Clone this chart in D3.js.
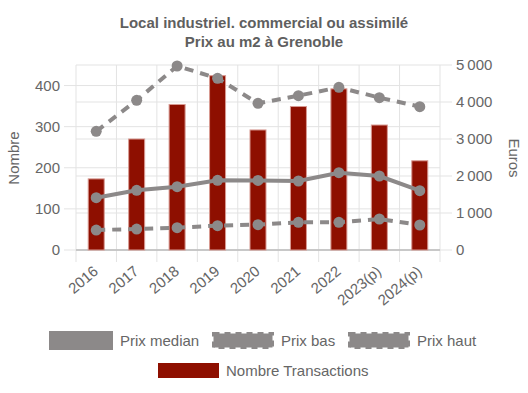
<!DOCTYPE html>
<html>
<head>
<meta charset="utf-8">
<script src="https://cdn.jsdelivr.net/npm/d3@7"></script>
<style>
  body { margin: 0; background: #fff; }
  text { font-family: "Liberation Sans", Arial, sans-serif; }
</style>
</head>
<body>
<svg id="chart" width="528" height="393"></svg>
<script>
// data
var years = ['2016', '2017', '2018', '2019', '2020', '2021', '2022', '2023(p)', '2024(p)'];
var nombre = [173, 270, 354, 424, 292, 349, 392, 304, 217];
var prixMedian = [1414, 1613, 1712, 1883, 1880, 1865, 2090, 2000, 1603];
var prixBas = [540, 567, 604, 658, 685, 748, 748, 838, 676];
var prixHaut = [3207, 4045, 4973, 4640, 3964, 4171, 4397, 4117, 3874];
var leftTicks = [0, 100, 200, 300, 400];
var rightTicks = [0, 1000, 2000, 3000, 4000, 5000];

var grey = '#8c8989';
var barColor = '#8e0f00';
var textColor = '#666';
var fs = 15;

var margin = { top: 65, right: 88, bottom: 143, left: 76 };
var width = 528 - margin.left - margin.right;
var height = 393 - margin.top - margin.bottom;

var svg = d3.select('#chart');
var g = svg.append('g').attr('transform', 'translate(' + margin.left + ',' + margin.top + ')');

var x = d3.scaleBand().domain(years).range([0, width]);
var yL = d3.scaleLinear().domain([0, 450]).range([height, 0]);
var yR = d3.scaleLinear().domain([0, 5000]).range([height, 0]);

// title
svg.append('text').attr('x', 264).attr('y', 28).attr('text-anchor', 'middle')
    .attr('font-size', fs).attr('font-weight', 'bold').attr('fill', '#5f5f5f')
    .text('Local industriel. commercial ou assimilé');
svg.append('text').attr('x', 264).attr('y', 47).attr('text-anchor', 'middle')
    .attr('font-size', fs).attr('font-weight', 'bold').attr('fill', '#5f5f5f')
    .text('Prix au m2 à Grenoble');

// grid
g.selectAll('.gr').data(rightTicks).enter().append('line')
    .attr('x1', 0).attr('x2', width + 12)
    .attr('y1', d => yR(d)).attr('y2', d => yR(d))
    .attr('stroke', '#e3e3e3');
g.selectAll('.gl').data(leftTicks).enter().append('line')
    .attr('x1', -12).attr('x2', width)
    .attr('y1', d => yL(d)).attr('y2', d => yL(d))
    .attr('stroke', '#e3e3e3');
var bounds = years.map(d => x(d)).concat([width]);
g.selectAll('.gv').data(bounds).enter().append('line')
    .attr('x1', d => d).attr('x2', d => d)
    .attr('y1', 0).attr('y2', height + 12)
    .attr('stroke', '#e3e3e3');
g.append('line').attr('x1', 0).attr('x2', width).attr('y1', height).attr('y2', height)
    .attr('stroke', '#bdbdbd').attr('stroke-width', 1.5);

// axes labels
var axL = g.append('g').call(d3.axisLeft(yL).tickValues(leftTicks).tickSize(0).tickPadding(16));
axL.select('.domain').remove();
axL.selectAll('text').attr('font-size', fs).attr('fill', textColor).style('font-family', '"Liberation Sans", Arial, sans-serif');

var fmt = d => d3.format(',')(d).replace(',', '\u2009');
var axR = g.append('g').attr('transform', 'translate(' + width + ',0)')
    .call(d3.axisRight(yR).tickValues(rightTicks).tickFormat(fmt).tickSize(0).tickPadding(16));
axR.select('.domain').remove();
axR.selectAll('text').attr('font-size', fs).attr('fill', textColor).style('font-family', '"Liberation Sans", Arial, sans-serif');

var axB = g.append('g').attr('transform', 'translate(0,' + height + ')')
    .call(d3.axisBottom(x).tickSize(0).tickPadding(0));
axB.select('.domain').remove();
axB.selectAll('text')
    .attr('font-size', fs).attr('fill', textColor).style('font-family', '"Liberation Sans", Arial, sans-serif')
    .attr('text-anchor', 'end').attr('dy', 0)
    .attr('transform', 'translate(3,23) rotate(-40)');

svg.append('text').attr('transform', 'translate(19,158) rotate(-90)').attr('text-anchor', 'middle')
    .attr('font-size', fs).attr('fill', textColor).text('Nombre');
svg.append('text').attr('transform', 'translate(509,158) rotate(90)').attr('text-anchor', 'middle')
    .attr('font-size', fs).attr('fill', textColor).text('Euros');

// bars
var bw = 16;
g.selectAll('.bar').data(nombre).enter().append('rect')
    .attr('x', (d, i) => x(years[i]) + x.bandwidth() / 2 - bw / 2)
    .attr('y', d => yL(d))
    .attr('width', bw)
    .attr('height', d => height - yL(d))
    .attr('fill', barColor)
    .attr('stroke', '#d89a92').attr('stroke-width', 1);

// lines
var series = [
    { vals: prixMedian, dash: null },
    { vals: prixBas, dash: '9,7' },
    { vals: prixHaut, dash: '9,7' }
];
var line = d3.line().x((d, i) => x(years[i]) + x.bandwidth() / 2).y(d => yR(d));
series.forEach(function(s) {
    g.append('path').datum(s.vals).attr('d', line)
        .attr('fill', 'none').attr('stroke', grey).attr('stroke-width', 4)
        .attr('stroke-dasharray', s.dash);
    g.selectAll(null).data(s.vals).enter().append('circle')
        .attr('cx', (d, i) => x(years[i]) + x.bandwidth() / 2)
        .attr('cy', d => yR(d)).attr('r', 5.5).attr('fill', grey);
});

// legend
var leg = svg.append('g');
var items = [
    { label: 'Prix median', x: 49, y: 331, w: 64, h: 19, fill: grey, dash: false },
    { label: 'Prix bas', x: 212, y: 332, w: 62, h: 17, fill: grey, dash: true },
    { label: 'Prix haut', x: 348, y: 332, w: 62, h: 17, fill: grey, dash: true },
    { label: 'Nombre Transactions', x: 158, y: 363, w: 61, h: 15, fill: barColor, dash: false }
];
items.forEach(function(it) {
    var r = leg.append('rect').attr('x', it.x).attr('y', it.y).attr('width', it.w).attr('height', it.h)
        .attr('fill', it.fill);
    if (it.dash) r.attr('stroke', grey).attr('stroke-width', 3).attr('stroke-dasharray', '6,5')
        .attr('x', it.x + 1.5).attr('y', it.y + 1.5).attr('width', it.w - 3).attr('height', it.h - 3);
    leg.append('text').attr('x', it.x + it.w + 7).attr('y', it.y + it.h / 2 + 5)
        .attr('font-size', fs).attr('fill', textColor).text(it.label);
});
</script>
</body>
</html>
